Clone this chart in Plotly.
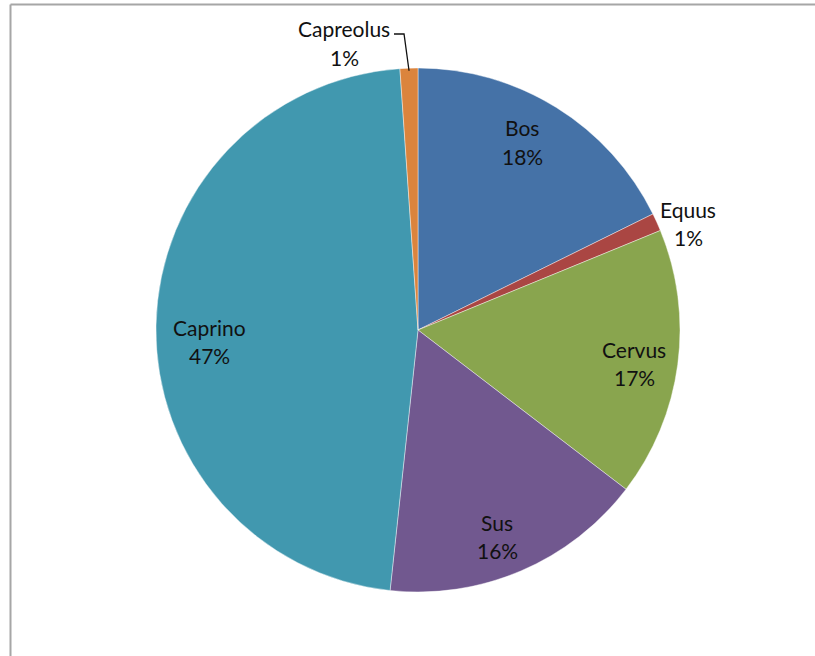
import math
import plotly.graph_objects as go

labels = ["Bos", "Equus", "Cervus", "Sus", "Caprino", "Capreolus"]
values = [17.7, 1.1, 16.6, 16.3, 47.2, 1.1]
colors = ["#4572A7", "#AA4643", "#89A54E", "#71588F", "#4198AF", "#DB843D"]

W, H = 815, 656
CX, CY, R = 418, 330, 262

# label block centres (pixels), layout only
label_pos = {"Bos": (522, 142), "Equus": (688, 223), "Cervus": (634, 363),
             "Sus": (497, 536), "Caprino": (209, 341), "Capreolus": (344, 43)}

def px(x):
    return x / W

def py(y):
    return 1 - y / H

fig = go.Figure(go.Pie(
    labels=labels, values=values, sort=False, direction="clockwise", rotation=0,
    marker=dict(colors=colors, line=dict(color="rgba(255,255,255,0.6)", width=0.7)),
    textinfo="none", hoverinfo="label+percent", showlegend=False,
    domain=dict(x=[px(CX - R), px(CX + R)], y=[py(CY + R), py(CY - R)]),
))

total = sum(values)
cum = 0
ann = []
shapes = []
font = dict(family="Lato, Calibri, sans-serif", size=21, color="#111111")
for lab, v in zip(labels, values):
    mid = (cum + v / 2) / total * 2 * math.pi
    cum += v
    pct = f"{round(v / total * 100)}%"
    lx, ly = label_pos[lab]
    if lab == "Capreolus":
        ex, ey = CX + R * math.sin(mid) * 0.99, CY - R * math.cos(mid) * 0.99
        shapes.append(dict(type="path", xref="paper", yref="paper",
                           path=f"M {px(ex)} {py(ey)} L {px(ex - 5)} {py(34)} L {px(394)} {py(34)}",
                           line=dict(color="#111111", width=1.3)))
    ann.append(dict(x=px(lx), y=py(ly - 14), xref="paper", yref="paper", text=lab,
                    showarrow=False, font=font, xanchor="center", yanchor="middle"))
    ann.append(dict(x=px(lx), y=py(ly + 14), xref="paper", yref="paper", text=pct,
                    showarrow=False, font=font, xanchor="center", yanchor="middle"))

frame = dict(color="#a6a6a6", width=2)
shapes.append(dict(type="line", xref="paper", yref="paper",
                   x0=px(10.5), y0=py(4.5), x1=1.0, y1=py(4.5), line=frame))
shapes.append(dict(type="line", xref="paper", yref="paper",
                   x0=px(10.5), y0=py(4.5), x1=px(10.5), y1=0.0, line=frame))

fig.update_layout(width=W, height=H, margin=dict(l=0, r=0, t=0, b=0),
                  paper_bgcolor="white", plot_bgcolor="white",
                  annotations=ann, shapes=shapes)
fig.write_html("out.html")
